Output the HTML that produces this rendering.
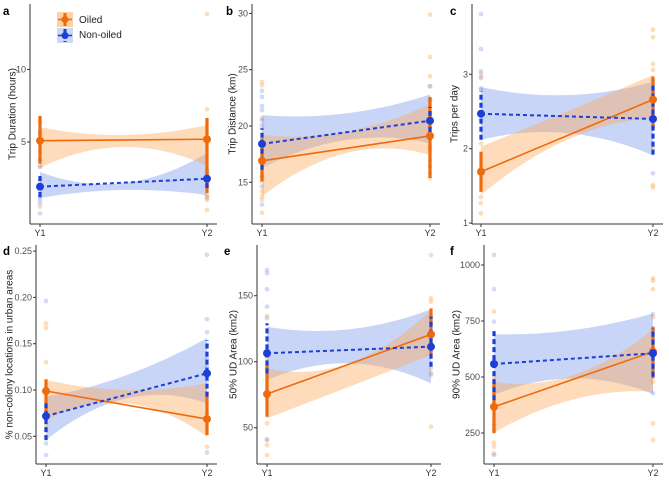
<!DOCTYPE html>
<html><head><meta charset="utf-8"><style>
html,body{margin:0;padding:0;background:#fff}
svg{display:block;font-family:"Liberation Sans",sans-serif}
</style></head><body>
<svg id="c" width="669" height="482" viewBox="0 0 669 482" xmlns="http://www.w3.org/2000/svg"></svg>
<script>
const NS="http://www.w3.org/2000/svg";
const svg=document.getElementById('c');
// ---- data ----
const categories=["Y1","Y2"];
const panelLetters=["a","b","c","d","e","f"];
const panelTitles=["Trip Duration (hours)","Trip Distance (km)","Trips per day","% non-colony locations in urban areas","50% UD Area (km2)","90% UD Area (km2)"];
const tickValuesA=[5,10],tickValuesB=[15,20,25,30],tickValuesC=[1,2,3],tickValuesD=[0.05,0.10,0.15,0.20,0.25],tickValuesE=[50,100,150],tickValuesF=[250,500,750,1000];
const tickLabelsD=["0.05","0.10","0.15","0.20","0.25"];
// oiled means [Y1,Y2]
const oiledMeans=[[5.09,5.19],[16.91,19.12],[1.69,2.66],[0.0989,0.0686],[75.5,120.7],[367,613]];
const nonOiledMeans=[[1.92,2.47],[18.41,20.47],[2.47,2.40],[0.0719,0.118],[106.4,111.4],[558,606]];
// error bars [[lo1,hi1],[lo2,hi2]]
const oiledErr=[[[3.5,6.8],[1.48,6.66]],[[15.08,18.91],[15.38,22.59]],[[1.42,1.96],[2.25,2.97]],[[0.0675,0.1116],[0.0513,0.098]],[[58.3,98.8],[105.1,140.4]],[[249,487],[494,725]]];
const nonOiledErr=[[[1.21,2.72],[1.83,2.86]],[[16.11,19.8],[18.76,21.7]],[[2.12,2.77],[1.92,2.86]],[[0.0459,0.0856],[0.0928,0.154]],[[91.2,129.1],[96.2,134.1]],[[397,717],[501,717]]];
// ribbons: lower [Y1,mid,Y2], upper [Y1,mid,Y2]
const oiledRibLo=[[3.21,4.66,3.34],[13.75,17.59,17.44],[1.38,2.12,2.41],[0.0675,0.0856,0.0495],[57.1,81,105.1],[251,400,434]];
const oiledRibHi=[[6.03,5.48,6.17],[19.2,19.5,21.94],[2.03,2.5,2.99],[0.1108,0.10,0.1072],[95,98.8,139.2],[479,509,713]];
const nonOiledRibLo=[[1.14,1.69,1.34],[16.26,18.76,18.47],[2.12,2.21,1.91],[0.0459,0.091,0.0856],[86.1,98.8,83.6],[420,494,424]];
const nonOiledRibHi=[[2.93,2.17,4.24],[20.97,21.12,22.8],[2.83,2.72,2.90],[0.0928,0.116,0.156],[126.5,124.5,139.7],[691,710,784]];
// raw points
const oiledPtsY1=[[6.47,6.33,5.64,5.53,5.02,4.33,3.76,3.30,1.92,1.23,0.54],[23.91,23.62,20.68,19.8,15.52,15.08,14.2,13.75,13.46,12.29],[3.01,2.97,2.07,1.35,1.27,1.13],[0.172,0.167,0.130,0.0748,0.0621,0.0495],[134.6,102.6,95,53.3,41.2,36.9,29.3],[792,501,360,263,207,189,159]];
const oiledPtsY2=[[13.83,7.26,3.07,2.03,1.34,1.12,1.0,0.31],[29.89,26.12,24.42,23.53,22.3,20.53,18.17,17.0,16.4,15.82,15.38],[3.6,3.5,3.14,3.06,2.75,2.30,2.01,1.51,1.48],[0.0386,0.0748],[180.8,148,145.5,95,89.9,50.8],[941,930,892,767,479,293,219]];
const nonOiledPtsY1=[[5.71,5.14,3.76,3.30,2.38,1.92,1.57,1.23,1.0,0.77,0.08],[23.12,22.59,21.77,21.41,20.53,20.09,15.52,14.64,13.02],[3.81,3.34,3.04,2.95,2.81,2.79,2.39],[0.196,0.0567,0.0423,0.0297],[169.5,167,154.8,141.7,132.9,40.7],[1045,892,747,286,152]];
const nonOiledPtsY2=[[2.95,2.84,2.26,1.92,1.23],[23.53,22.3,21.12,19.94,17.88],[2.92,1.67],[0.246,0.1765,0.1624,0.1487,0.1343,0.1252,0.1108,0.0326],[134.1,91.2],[781,710,427]];
// ---- layout (pixels) ----
const tickSets=[tickValuesA,tickValuesB,tickValuesC,tickValuesD,tickValuesE,tickValuesF];
const tickLabelSets=[null,null,null,tickLabelsD,null,null];
const cal=[[5,142,10,69.5],[20,126,25,69.7],[2,148.7,3,74.3],[0.10,390,0.15,343.7],[100,361.7,150,295.7],[500,377,750,321]];
const geo=[
 {ax:30,x1:40,x2:207,top:4,bot:224,letter:[3,15],tx:13},
 {ax:252,x1:262,x2:430,top:4,bot:224,letter:[226,15],tx:233},
 {ax:472,x1:481,x2:653,top:4,bot:224,letter:[450,15],tx:455},
 {ax:36,x1:46,x2:207,top:245,bot:464,letter:[3,255],tx:10},
 {ax:257,x1:267,x2:431,top:245,bot:464,letter:[224,255],tx:234},
 {ax:484,x1:494,x2:653,top:245,bot:464,letter:[450,255],tx:457}];
const OR="#ee6a0c",BL="#1c3fd8";
function mk(t,a,p){const e=document.createElementNS(NS,t);for(const k in a)e.setAttribute(k,a[k]);(p||svg).appendChild(e);return e;}
for(let i=0;i<6;i++){
 const g=geo[i],c=cal[i];
 const k=(c[3]-c[1])/(c[2]-c[0]);
 const y=v=>c[1]+(v-c[0])*k;
 const xm=(g.x1+g.x2)/2;
 const grp=mk('g',{});
 
 
 const rib=(lo,hi,fill,name)=>{
  const cl=2*y(lo[1])-(y(lo[0])+y(lo[2]))/2, ch=2*y(hi[1])-(y(hi[0])+y(hi[2]))/2;
  const p=mk('path',{d:`M${g.x1},${y(hi[0])} Q${xm},${ch} ${g.x2},${y(hi[2])} L${g.x2},${y(lo[2])} Q${xm},${cl} ${g.x1},${y(lo[0])} Z`,fill:fill},grp);
  
  
 };
 rib(nonOiledRibLo[i],nonOiledRibHi[i],"rgba(110,145,232,0.38)","non-oiled-ribbon");
 rib(oiledRibLo[i],oiledRibHi[i],"rgba(253,170,90,0.42)","oiled-ribbon");
 const pts=(arr,x,col,name)=>arr.forEach(v=>{const e=mk('circle',{cx:x,cy:y(v),r:2.4,fill:col,'fill-opacity':0.35},grp);
  
  });
 pts(oiledPtsY1[i],g.x1,"#f5a040","oiled-point");
 pts(oiledPtsY2[i],g.x2,"#f5a040","oiled-point");
 pts(nonOiledPtsY1[i],g.x1,"#7f9ae8","non-oiled-point");
 pts(nonOiledPtsY2[i],g.x2,"#7f9ae8","non-oiled-point");
 const eb=(e,x,col,dash,name)=>{const l=mk('line',{x1:x,x2:x,y1:y(e[0]),y2:y(e[1]),stroke:col,'stroke-width':3.2,'stroke-dasharray':dash},grp);
  
  };
 eb(oiledErr[i][0],g.x1,OR,"none","oiled-errorbar");eb(oiledErr[i][1],g.x2,OR,"none","oiled-errorbar");
 eb(nonOiledErr[i][0],g.x1,BL,"5,3","non-oiled-errorbar");eb(nonOiledErr[i][1],g.x2,BL,"5,3","non-oiled-errorbar");
 const ml=(m,col,dash,w,name)=>{const l=mk('line',{x1:g.x1,x2:g.x2,y1:y(m[0]),y2:y(m[1]),stroke:col,'stroke-width':w,'stroke-dasharray':dash},grp);
  
  
  [0,1].forEach(j=>{const d=mk('circle',{cx:j?g.x2:g.x1,cy:y(m[j]),r:4,fill:col},grp);
   
   });};
 ml(oiledMeans[i],OR,"none",1.6,"oiled-mean-line");
 ml(nonOiledMeans[i],BL,"4,3",2,"non-oiled-mean-line");
 const ya=mk('line',{x1:g.ax,x2:g.ax,y1:g.top,y2:g.bot,stroke:"#333",'stroke-width':1},grp);
 
 
 const xa=mk('line',{x1:g.ax,x2:g.x2+10,y1:g.bot,y2:g.bot,stroke:"#333",'stroke-width':1},grp);
 
 
 tickSets[i].forEach((v,j)=>{
  mk('line',{x1:g.ax-3,x2:g.ax,y1:y(v),y2:y(v),stroke:"#333"},grp);
  const t=mk('text',{x:g.ax-4,y:y(v)+3,'text-anchor':'end','font-size':9,fill:"#4d4d4d"},grp);
  t.textContent=tickLabelSets[i]?tickLabelSets[i][j]:String(v);
  
  
 });
 categories.forEach((cname,j)=>{const x=j?g.x2:g.x1;
  mk('line',{x1:x,x2:x,y1:g.bot,y2:g.bot+3,stroke:"#333"},grp);
  const t=mk('text',{x:x,y:g.bot+12,'text-anchor':'middle','font-size':9,fill:"#333"},grp);
  t.textContent=cname;
  
  });
 const cy=(g.top+g.bot)/2;
 const tt=mk('text',{x:g.tx,y:cy,transform:`rotate(-90 ${g.tx} ${cy})`,'text-anchor':'middle','dominant-baseline':'middle','font-size':10,fill:"#222"},grp);
 tt.textContent=panelTitles[i];
 
 
 const lt=mk('text',{x:g.letter[0],y:g.letter[1],'font-size':11.5,'font-weight':'bold',fill:"#000"},grp);
 lt.textContent=panelLetters[i];
 
 
}
</script>
<svg style="position:absolute;left:0;top:0" width="669" height="482">
 <g>
  <rect x="57" y="12" width="16" height="15" fill="#fdd3a6"/>
  <line x1="65" y1="13" x2="65" y2="26" stroke="#ee6a0c" stroke-width="3"/>
  <line x1="58" y1="19.5" x2="72" y2="19.5" stroke="#ee6a0c" stroke-width="1.6"/>
  <circle cx="65" cy="19.5" r="3.5" fill="#ee6a0c"/>
  <text x="79" y="23" font-size="10" fill="#222" font-family="Liberation Sans, sans-serif">Oiled</text>
 </g>
 <g>
  <rect x="57" y="28" width="16" height="15" fill="#cdd7f6"/>
  <line x1="65" y1="29" x2="65" y2="42" stroke="#1c3fd8" stroke-width="3" stroke-dasharray="4,2"/>
  <line x1="58" y1="35.5" x2="72" y2="35.5" stroke="#1c3fd8" stroke-width="1.6"/>
  <circle cx="65" cy="35.5" r="3.5" fill="#1c3fd8"/>
  <text x="79" y="38" font-size="10" fill="#222" font-family="Liberation Sans, sans-serif">Non-oiled</text>
 </g>
</svg>
</body></html>
